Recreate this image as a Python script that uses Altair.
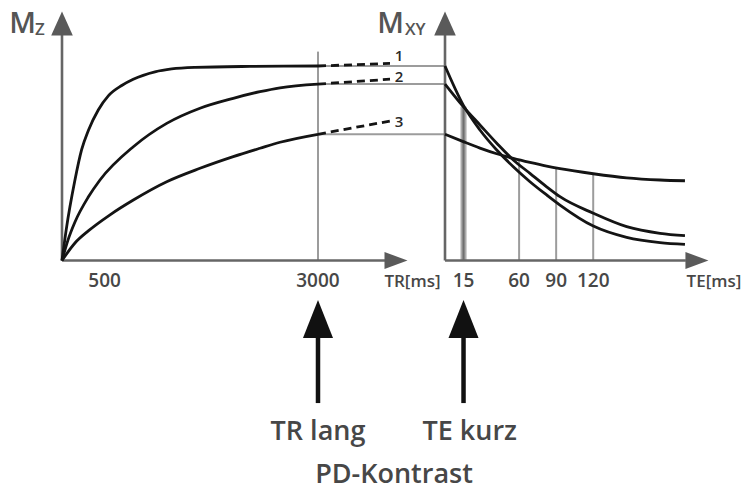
import altair as alt
import pandas as pd

# ---------------- values ----------------
# left panel: longitudinal magnetisation Mz recovering over TR [ms]
tr_1 = [0, 50, 150, 230, 310, 425, 545, 700, 835, 1090, 1285, 1560, 2200, 3000]
mz_1 = [0, 16, 41, 57, 67, 77.4, 84.8, 90.0, 93.2, 97.0, 98.5, 99.3, 99.8, 100]
tr_2 = [0, 70, 152, 308, 445, 836, 1227, 1617, 2007, 2320, 2555, 3000]
mz_2 = [0, 10.5, 19.8, 32.6, 41.4, 58.5, 70.5, 78.3, 83.4, 86.8, 88.8, 90.7]
tr_3 = [0, 152, 308, 563, 836, 1227, 1617, 2007, 2320, 2555, 3000]
mz_3 = [0, 9.0, 15.2, 23.5, 31.1, 40.5, 47.4, 53.4, 57.7, 60.8, 64.9]

# dashed continuation beyond TR = 3000
dash_tr = [3000, 3844]
dash_1 = [100, 101.3]
dash_2 = [90.7, 93.2]
dash_3 = [64.9, 71.7]
curve_names = ["1", "2", "3"]
curve_label_m = [104.9, 94.1, 71.4]

# Mz level at TR = 3000 carried over as start of Mxy
level_m = [100, 90.7, 64.9]

# right panel: transverse magnetisation Mxy decaying over TE [ms]
te = [0, 14.8, 28.3, 41.9, 55.3, 68.8, 82.3, 93.1, 120.1, 147.1, 174.1, 194.3]
mxy_1 = [100, 79.9, 67.1, 56.8, 48.2, 40.5, 33.7, 28.5, 17.7, 11.9, 9.2, 8.3]
mxy_2 = [90.7, 79.1, 69.7, 60.3, 51.7, 44.8, 37.9, 32.8, 24.3, 17.4, 14.0, 12.8]
mxy_3 = [64.9, 61.1, 57.8, 54.9, 52.5, 50.4, 48.5, 47.2, 44.6, 42.5, 41.4, 41.0]

tr_ticks = [500, 3000]
te_ticks = [15, 60, 90, 120]
te_line_tops = [79, 51.2, 47.2, 44.2]
tr_marker = 3000
te_marker = 15

# ---------------- layout (pixel geometry of the figure) ----------------
W, H = 750, 492
ORIGIN_Y = 260.5          # pixel row of M = 0
PX_PER_M = 1.945
L_X0, L_PX_PER_MS = 62, 1 / 11.719
R_X0, R_PX_PER_MS = 445, 1.235

y_dom = [-(H - ORIGIN_Y) / PX_PER_M, ORIGIN_Y / PX_PER_M]
tr_dom = [-L_X0 / L_PX_PER_MS, (W - L_X0) / L_PX_PER_MS]
te_dom = [-R_X0 / R_PX_PER_MS, (W - R_X0) / R_PX_PER_MS]
TR_AT_RIGHT_AXIS = (R_X0 - L_X0) / L_PX_PER_MS

FONT = "Open Sans"
GREY_LINE = "#9c9c9c"
AXIS = "#666666"
TXT = "#474747"
INK = "#141414"


def xl(f):
    return alt.X(f, type="quantitative", scale=alt.Scale(domain=tr_dom, nice=False, zero=False), axis=None)


def xr(f):
    return alt.X(f, type="quantitative", scale=alt.Scale(domain=te_dom, nice=False, zero=False), axis=None)


def yy(f):
    return alt.Y(f, type="quantitative", scale=alt.Scale(domain=y_dom, nice=False, zero=False), axis=None)


def text_layer(df, xenc, size, color=TXT, baseline="alphabetic", weight=600, align="center"):
    return alt.Chart(df).mark_text(font=FONT, fontSize=size, color=color, align=align,
                                   baseline=baseline, fontWeight=weight).encode(
        x=xenc("x"), y=yy("y"), text="t:N")


# ---------------- data tables ----------------
left_curves = pd.concat([
    pd.DataFrame({"TR": tr_1, "M": mz_1, "curve": "1"}),
    pd.DataFrame({"TR": tr_2, "M": mz_2, "curve": "2"}),
    pd.DataFrame({"TR": tr_3, "M": mz_3, "curve": "3"}),
])
dashes = pd.concat([
    pd.DataFrame({"TR": dash_tr, "M": d, "curve": n})
    for d, n in zip([dash_1, dash_2, dash_3], curve_names)
])
right_curves = pd.concat([
    pd.DataFrame({"TE": te, "M": mxy_1, "curve": "1"}),
    pd.DataFrame({"TE": te, "M": mxy_2, "curve": "2"}),
    pd.DataFrame({"TE": te, "M": mxy_3, "curve": "3"}),
])
levels = pd.DataFrame({"x": tr_marker, "x2": TR_AT_RIGHT_AXIS, "y": level_m})
te_lines = pd.DataFrame({"x": te_ticks, "y": 0, "y2": te_line_tops})

up_tri = "M0,-1L0.9,1L-0.9,1Z"
right_tri = "M1,0L-1,0.74L-1,-0.74Z"
big_up = "M0,-1L0.79,1L-0.79,1Z"

# ---------------- left panel ----------------
left = alt.layer(
    # vertical marker at TR 3000
    alt.Chart(pd.DataFrame({"x": [tr_marker], "y": [0], "y2": [107.4]})).mark_rule(
        color=GREY_LINE, strokeWidth=2).encode(x=xl("x"), y=yy("y"), y2="y2"),
    # horizontal transfer lines
    alt.Chart(levels).mark_rule(color=GREY_LINE, strokeWidth=2).encode(
        x=xl("x"), x2="x2", y=yy("y")),
    # axes
    alt.Chart(pd.DataFrame({"x": [0], "y": [0], "y2": [116.5]})).mark_rule(
        color=AXIS, strokeWidth=2.6).encode(x=xl("x"), y=yy("y"), y2="y2"),
    alt.Chart(pd.DataFrame({"x": [0], "x2": [3785], "y": [0]})).mark_rule(
        color=AXIS, strokeWidth=2.6).encode(x=xl("x"), x2="x2", y=yy("y")),
    alt.Chart(pd.DataFrame({"x": [0], "y": [121.8]})).mark_point(
        shape=up_tri, size=576, filled=True, opacity=1, color="#5a5a5a", strokeWidth=0).encode(
        x=xl("x"), y=yy("y")),
    alt.Chart(pd.DataFrame({"x": [3914], "y": [0]})).mark_point(
        shape=right_tri, size=529, filled=True, opacity=1, color="#5a5a5a", strokeWidth=0).encode(
        x=xl("x"), y=yy("y")),
    # curves
    alt.Chart(left_curves).mark_line(color=INK, strokeWidth=2.8, interpolate="monotone").encode(
        x=xl("TR"), y=yy("M"), detail="curve:N"),
    alt.Chart(dashes).mark_line(color=INK, strokeWidth=2.8, strokeDash=[8, 5]).encode(
        x=xl("TR"), y=yy("M"), detail="curve:N"),
    text_layer(pd.DataFrame({"x": 3949, "y": curve_label_m, "t": curve_names}), xl, 15,
               color="#2a2a2a", baseline="middle"),
    # tick labels
    text_layer(pd.DataFrame({"x": tr_ticks, "y": -13.6,
                             "t": [str(v) for v in tr_ticks]}), xl, 19),
    text_layer(pd.DataFrame({"x": [4107], "y": [-13.6], "t": ["TR[ms]"]}), xl, 17),
    # axis title M_Z
    text_layer(pd.DataFrame({"x": [-463], "y": [117], "t": ["M"]}), xl, 29, color="#555555"),
    text_layer(pd.DataFrame({"x": [-316], "y": [116], "t": ["Z"]}), xl, 17, color="#555555",
               align="left"),
    # arrow "TR lang"
    alt.Chart(pd.DataFrame({"x": [tr_marker], "y": [-73.3], "y2": [-38]})).mark_rule(
        color="#111111", strokeWidth=4.5).encode(x=xl("x"), y=yy("y"), y2="y2"),
    alt.Chart(pd.DataFrame({"x": [tr_marker], "y": [-30.1]})).mark_point(
        shape=big_up, size=1444, filled=True, opacity=1, color="#111111", strokeWidth=0).encode(
        x=xl("x"), y=yy("y")),
    text_layer(pd.DataFrame({"x": [tr_marker], "y": [-92.3], "t": ["TR lang"]}), xl, 27),
    text_layer(pd.DataFrame({"x": [3891], "y": [-114.6], "t": ["PD-Kontrast"]}), xl, 27),
)

# ---------------- right panel ----------------
right = alt.layer(
    # TE marker lines
    alt.Chart(te_lines[te_lines.x == te_marker]).mark_rule(
        color="#aaaaaa", strokeWidth=6).encode(x=xr("x"), y=yy("y"), y2="y2"),
    alt.Chart(te_lines).mark_rule(color=GREY_LINE, strokeWidth=2).encode(
        x=xr("x"), y=yy("y"), y2="y2"),
    alt.Chart(te_lines[te_lines.x == te_marker]).mark_rule(
        color="#6f6f6f", strokeWidth=2).encode(x=xr("x"), y=yy("y"), y2="y2"),
    # axes
    alt.Chart(pd.DataFrame({"x": [0], "y": [0], "y2": [116.5]})).mark_rule(
        color=AXIS, strokeWidth=2.6).encode(x=xr("x"), y=yy("y"), y2="y2"),
    alt.Chart(pd.DataFrame({"x": [0], "x2": [195], "y": [0]})).mark_rule(
        color=AXIS, strokeWidth=2.6).encode(x=xr("x"), x2="x2", y=yy("y")),
    alt.Chart(pd.DataFrame({"x": [0], "y": [121.8]})).mark_point(
        shape=up_tri, size=576, filled=True, opacity=1, color="#5a5a5a", strokeWidth=0).encode(
        x=xr("x"), y=yy("y")),
    alt.Chart(pd.DataFrame({"x": [204], "y": [0]})).mark_point(
        shape=right_tri, size=529, filled=True, opacity=1, color="#5a5a5a", strokeWidth=0).encode(
        x=xr("x"), y=yy("y")),
    # curves
    alt.Chart(right_curves).mark_line(color=INK, strokeWidth=2.8, interpolate="monotone").encode(
        x=xr("TE"), y=yy("M"), detail="curve:N"),
    # tick labels
    text_layer(pd.DataFrame({"x": te_ticks, "y": -13.6,
                             "t": [str(v) for v in te_ticks]}), xr, 19),
    text_layer(pd.DataFrame({"x": [217.8], "y": [-13.6], "t": ["TE[ms]"]}), xr, 17),
    # axis title M_XY
    text_layer(pd.DataFrame({"x": [-44.1], "y": [117], "t": ["M"]}), xr, 29, color="#555555"),
    text_layer(pd.DataFrame({"x": [-32.4], "y": [116], "t": ["XY"]}), xr, 17, color="#555555",
               align="left"),
    # arrow "TE kurz"
    alt.Chart(pd.DataFrame({"x": [te_marker], "y": [-73.3], "y2": [-38]})).mark_rule(
        color="#111111", strokeWidth=4.5).encode(x=xr("x"), y=yy("y"), y2="y2"),
    alt.Chart(pd.DataFrame({"x": [te_marker], "y": [-30.1]})).mark_point(
        shape=big_up, size=1444, filled=True, opacity=1, color="#111111", strokeWidth=0).encode(
        x=xr("x"), y=yy("y")),
    text_layer(pd.DataFrame({"x": [te_marker + 5], "y": [-92.3], "t": ["TE kurz"]}), xr, 27),
)

chart = alt.layer(left, right).resolve_scale(x="independent").properties(
    width=W, height=H, padding=0,
    autosize=alt.AutoSizeParams(type="none"),
    background="white",
).configure_view(strokeWidth=0)

chart.save("out.html", embed_options={"renderer": "svg", "actions": False})
